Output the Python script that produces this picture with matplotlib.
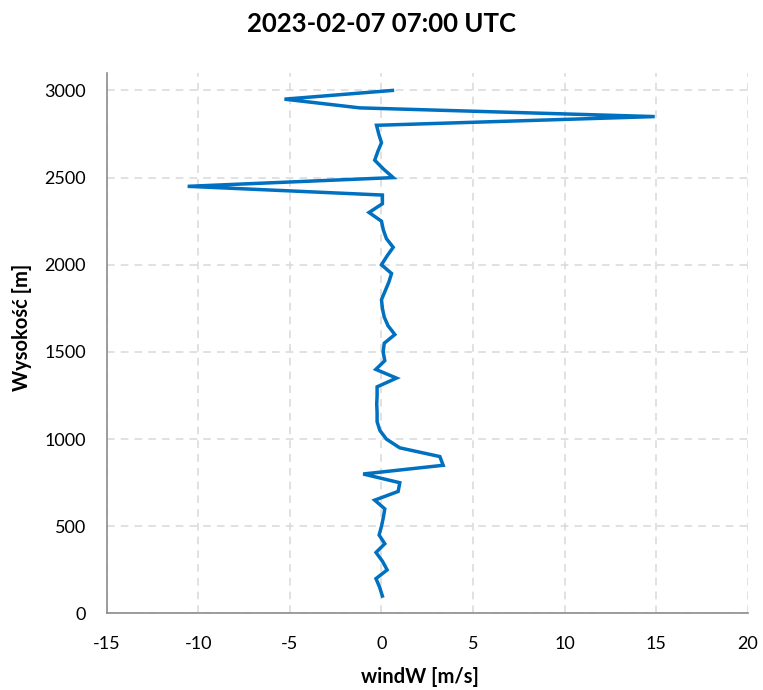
import numpy as np
import matplotlib.pyplot as plt

# vertical wind profile, 50 m levels
height = np.arange(100, 3001, 50)
wind_w = [0.05, -0.1, -0.3, 0.31, 0.05, -0.3, 0.18, -0.13, 0.0, 0.1,
          0.18, -0.37, 0.91, 1.0, -1.0, 3.37, 3.19, 1.0, 0.27, -0.09,
          -0.24, -0.24, -0.26, -0.24, -0.24, 0.82, -0.31, 0.18, 0.09, 0.15,
          0.73, 0.36, 0.15, 0.05, 0.0, 0.2, 0.4, 0.55, 0.0, 0.3,
          0.64, 0.27, 0.1, 0.0, -0.68, 0.05, 0.05, -10.59, 0.64, 0.1,
          -0.37, -0.2, 0.0, -0.15, -0.27, 14.93, -1.19, -5.3, 0.6]

title = "2023-02-07 07:00 UTC"
xticks = np.arange(-15, 21, 5)
yticks = np.arange(0, 3001, 500)

plt.rcParams['font.family'] = ['Lato', 'DejaVu Sans']
plt.rcParams['axes.unicode_minus'] = False

fig = plt.figure(figsize=(7.63, 6.90), dpi=100)
ax = fig.add_axes([0.1402, 0.1109, 0.8395, 0.7833])

ax.plot(wind_w, height, color='#0070C0', lw=2.5, solid_joinstyle='miter')

ax.set_xlim(-15, 20)
ax.set_ylim(0, 3100)
ax.set_xticks(xticks)
ax.set_yticks(yticks)
ax.grid(True, color='#d9d9d9', ls=(0, (5, 4)), lw=1.1)
ax.set_axisbelow(True)

for s in ['top', 'right']:
    ax.spines[s].set_visible(False)
for s in ['left', 'bottom']:
    ax.spines[s].set_color('#8c8c8c')
    ax.spines[s].set_linewidth(1.2)

ax.tick_params(length=0, labelsize=13, colors='black')
ax.tick_params(axis='y', pad=15)
ax.tick_params(axis='x', pad=16)

ax.set_xlabel("windW [m/s]", fontsize=14.5, fontweight='bold')
ax.set_ylabel("Wysokość [m]", fontsize=14.5, fontweight='bold')
ax.xaxis.set_label_coords(0.489, -0.117)
ax.yaxis.set_label_coords(-0.133, 0.53)
ax.xaxis.label.set_va('center')
ax.yaxis.label.set_va('center')
fig.text(0.5, 1 - 24 / 690, title, ha='center', va='center',
         fontsize=18.5, fontweight='bold')

fig.savefig('out.png', dpi=100)
